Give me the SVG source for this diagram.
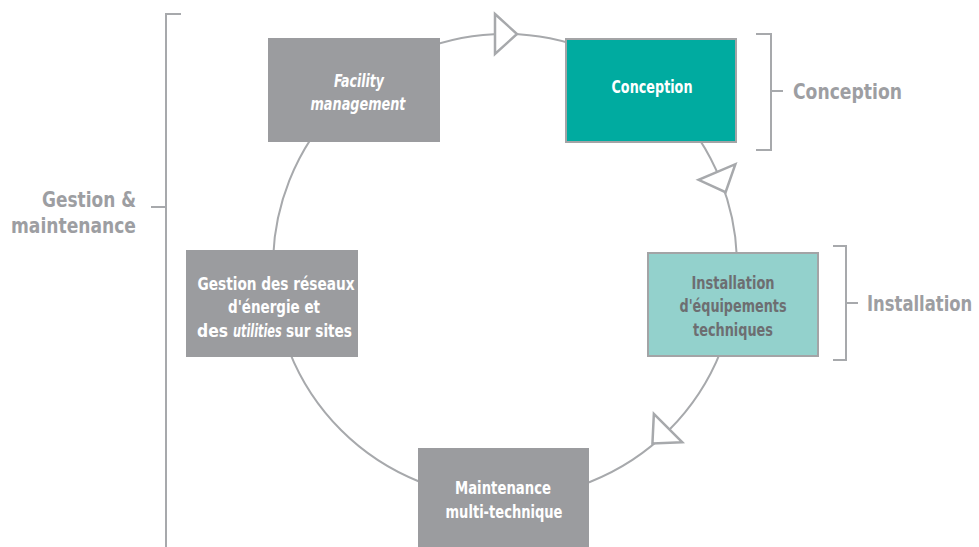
<svg xmlns="http://www.w3.org/2000/svg" width="979" height="547" viewBox="0 0 979 547">
<style>
.txt{font-family:"DejaVu Sans Condensed","DejaVu Sans",sans-serif;font-stretch:condensed;font-weight:bold;text-anchor:middle}
.st{text-anchor:start}
.bt{font-size:17px;fill:#ffffff}
.dk{font-size:17px;fill:#6d6e71}
.lab{font-size:22px;fill:#9d9ea2}
.gray{fill:#9b9c9f}
.br{fill:none;stroke:#a7a9ac;stroke-width:2}
.arc{fill:none;stroke:#a7a9ac;stroke-width:2}
.tri{fill:#ffffff;stroke:#a7a9ac;stroke-width:2.5;stroke-linejoin:miter}
</style>
<defs>
<polygon id="tri" class="tri" points="0,-20 22,0 0,20"/>
</defs>
<rect width="979" height="547" fill="#ffffff"/>
<g id="connectors">
<circle class="arc" cx="505" cy="266" r="232"/>
<use href="#tri" transform="translate(495,34) rotate(0)"/>
<use href="#tri" transform="translate(717,172) rotate(67)"/>
<use href="#tri" transform="translate(668,428) rotate(135)"/>
</g>
<g id="facility">
<rect class="gray" x="268" y="38" width="172" height="104"/>
<text class="txt bt" x="359" y="87" font-style="italic" textLength="50" lengthAdjust="spacingAndGlyphs">Facility</text>
<text class="txt bt" x="358" y="110" font-style="italic" textLength="95" lengthAdjust="spacingAndGlyphs">management</text>
</g>
<g id="conception">
<rect x="566" y="39" width="170" height="103" fill="#00aba0" stroke="#a3a4a6" stroke-width="2"/>
<text class="txt bt" x="652" y="93" textLength="81" lengthAdjust="spacingAndGlyphs">Conception</text>
</g>
<g id="installation">
<rect x="648" y="253" width="170" height="103" fill="#93d1cc" stroke="#a3a4a6" stroke-width="2"/>
<text class="txt dk" x="733" y="289" textLength="83" lengthAdjust="spacingAndGlyphs">Installation</text>
<text class="txt dk" x="733" y="312" textLength="107" lengthAdjust="spacingAndGlyphs">d'équipements</text>
<text class="txt dk" x="733" y="336" textLength="80" lengthAdjust="spacingAndGlyphs">techniques</text>
</g>
<g id="gestion">
<rect class="gray" x="186" y="250" width="172" height="107"/>
<text class="txt bt" x="276" y="290" textLength="157" lengthAdjust="spacingAndGlyphs">Gestion des réseaux</text>
<text class="txt bt" x="274" y="313" textLength="92" lengthAdjust="spacingAndGlyphs">d'énergie et</text>
<text class="txt bt st" x="197" y="337" textLength="31" lengthAdjust="spacingAndGlyphs">des</text>
<text class="txt bt st" transform="translate(233,337) scale(0.74,1)" x="0" y="0" font-style="italic">utilities</text>
<text class="txt bt st" x="286" y="337" textLength="66" lengthAdjust="spacingAndGlyphs">sur sites</text>
</g>
<g id="maintenance">
<rect class="gray" x="418" y="448" width="171" height="99"/>
<text class="txt bt" x="503" y="494" textLength="96" lengthAdjust="spacingAndGlyphs">Maintenance</text>
<text class="txt bt" x="504" y="518" textLength="117" lengthAdjust="spacingAndGlyphs">multi-technique</text>
</g>
<g id="bracket-conception">
<path class="br" d="M756,34 H771 V150 H756 M771,91 H783"/>
<text class="txt lab st" x="793" y="99" textLength="109" lengthAdjust="spacingAndGlyphs">Conception</text>
</g>
<g id="bracket-installation">
<path class="br" d="M833,246 H846 V360 H833 M846,303 H858"/>
<text class="txt lab st" transform="translate(867,311) scale(0.83,1)" x="0" y="0">Installation</text>
</g>
<g id="bracket-gestion">
<path class="br" d="M181,14 H166 V547 M166,207 H151"/>
<text class="txt lab st" x="42" y="207" textLength="94" lengthAdjust="spacingAndGlyphs">Gestion &amp;</text>
<text class="txt lab st" x="11" y="233" textLength="125" lengthAdjust="spacingAndGlyphs">maintenance</text>
</g>
</svg>
